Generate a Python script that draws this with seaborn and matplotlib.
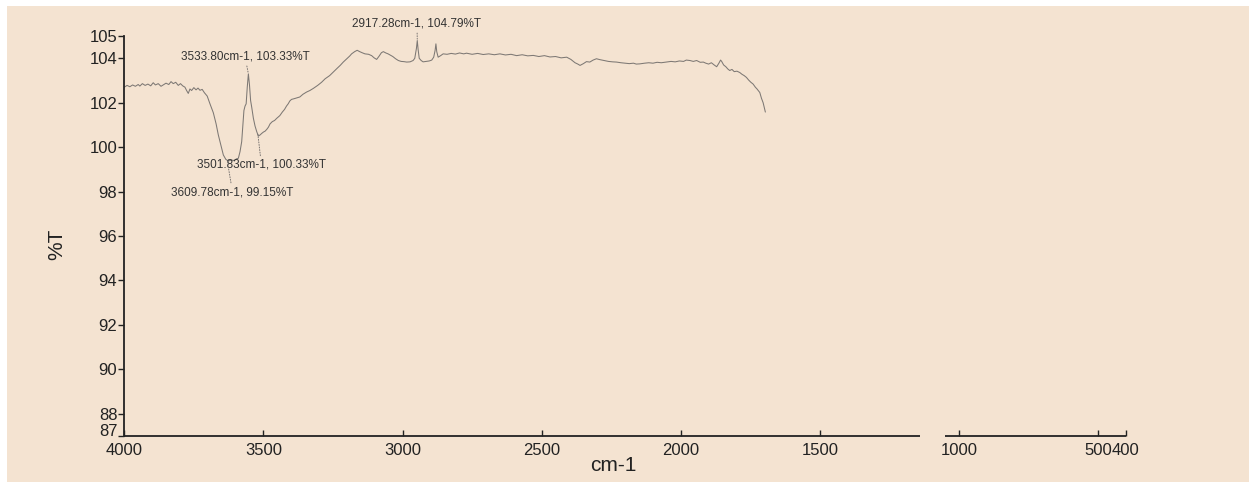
import numpy as np
import pandas as pd
import matplotlib.pyplot as plt
import seaborn as sns
from matplotlib.patches import Rectangle

sns.set_style("ticks")
plt.rcParams['font.family'] = ['Liberation Sans', 'DejaVu Sans']

BG = "#F4E3D1"
INK = "#222222"
TRACE = "#7d7874"

# --- spectrum (wavenumber cm-1, %T) ---
wavenumber = [
    4000, 3990, 3980, 3970, 3960, 3950, 3944, 3935, 3925, 3915, 3905, 3896, 3888, 3878, 3868, 3860,
    3850, 3840, 3832, 3824, 3815, 3806, 3798, 3790, 3782, 3776, 3770, 3764, 3758, 3750, 3742, 3735,
    3728, 3720, 3712, 3702, 3692, 3680, 3670, 3662, 3652, 3644, 3635, 3626, 3615, 3605, 3596, 3590,
    3584, 3578, 3574, 3570, 3566, 3562, 3558, 3554, 3550, 3546, 3542, 3536, 3530, 3524, 3518, 3512,
    3506, 3500, 3494, 3488, 3482, 3476, 3468, 3460, 3452, 3441, 3432, 3424, 3417, 3411, 3405, 3399,
    3390, 3380, 3369, 3358, 3345, 3333, 3320, 3305, 3291, 3278, 3262, 3249, 3235, 3224, 3213, 3200,
    3190, 3183, 3172, 3163, 3154, 3145, 3135, 3122, 3111, 3102, 3093, 3084, 3076, 3069, 3060, 3052,
    3045, 3035, 3025, 3015, 3005, 2995, 2985, 2973, 2962, 2956, 2950, 2947, 2944, 2940, 2933, 2926,
    2915, 2904, 2895, 2888, 2883, 2880, 2877, 2872, 2863, 2854, 2840, 2825, 2810, 2795, 2780, 2770,
    2750, 2730, 2710, 2690, 2670, 2650, 2630, 2610, 2590, 2570, 2550, 2530, 2510, 2490, 2470, 2450,
    2430, 2410, 2395, 2380, 2370, 2362, 2350, 2339, 2327, 2315, 2303, 2291, 2275, 2260, 2245, 2231,
    2215, 2200, 2185, 2170, 2160, 2147, 2130, 2115, 2100, 2085, 2070, 2051, 2035, 2020, 2005, 1990,
    1980, 1967, 1955, 1943, 1930, 1919, 1910, 1900, 1890, 1880, 1871, 1863, 1857, 1853, 1846, 1838,
    1831, 1824, 1816, 1808, 1798, 1788, 1780, 1772, 1764, 1756, 1748, 1740, 1732, 1726, 1720, 1716,
    1710, 1704, 1700, 1696,
]
transmittance = [
    102.70, 102.78, 102.72, 102.80, 102.74, 102.82, 102.75, 102.86, 102.78, 102.84, 102.76, 102.90, 102.80, 102.86, 102.74, 102.80,
    102.88, 102.82, 102.95, 102.86, 102.92, 102.78, 102.86, 102.76, 102.70, 102.55, 102.42, 102.62, 102.55, 102.68, 102.58, 102.66,
    102.56, 102.60, 102.45, 102.30, 101.95, 101.55, 101.05, 100.55, 100.05, 99.65, 99.45, 99.38, 99.42, 99.40, 99.48, 99.50,
    99.80, 100.25, 100.95, 101.65, 101.85, 101.95, 102.70, 103.30, 102.80, 102.10, 101.80, 101.30, 100.95, 100.70, 100.50, 100.55,
    100.62, 100.68, 100.72, 100.80, 100.90, 101.05, 101.15, 101.20, 101.30, 101.42, 101.58, 101.70, 101.85, 101.95, 102.08, 102.15,
    102.18, 102.22, 102.26, 102.38, 102.48, 102.55, 102.65, 102.78, 102.92, 103.08, 103.22, 103.38, 103.55, 103.68, 103.83, 103.98,
    104.10, 104.20, 104.30, 104.36, 104.30, 104.25, 104.20, 104.18, 104.12, 104.02, 103.95, 104.10, 104.25, 104.30, 104.24, 104.20,
    104.15, 104.08, 103.98, 103.90, 103.86, 103.85, 103.83, 103.84, 103.90, 104.00, 104.45, 104.80, 104.40, 104.00, 103.90, 103.84,
    103.86, 103.88, 103.92, 104.05, 104.35, 104.65, 104.30, 104.05, 104.12, 104.20, 104.18, 104.22, 104.19, 104.24, 104.20, 104.23,
    104.18, 104.22, 104.17, 104.20, 104.16, 104.20, 104.15, 104.18, 104.12, 104.16, 104.11, 104.13, 104.08, 104.12, 104.06, 104.08,
    104.02, 104.05, 103.95, 103.80, 103.74, 103.68, 103.76, 103.85, 103.83, 103.92, 103.98, 103.94, 103.90, 103.86, 103.84, 103.83,
    103.80, 103.78, 103.76, 103.78, 103.74, 103.75, 103.78, 103.80, 103.78, 103.82, 103.80, 103.83, 103.86, 103.84, 103.88, 103.86,
    103.92, 103.90, 103.86, 103.90, 103.82, 103.83, 103.78, 103.74, 103.80, 103.70, 103.62, 103.78, 103.92, 103.86, 103.70, 103.62,
    103.52, 103.45, 103.50, 103.40, 103.42, 103.36, 103.28, 103.22, 103.14, 103.02, 102.92, 102.84, 102.70, 102.62, 102.52, 102.46,
    102.20, 102.00, 101.80, 101.58,
]

# peak labels printed by the instrument
peak_labels = ["3533.80cm-1, 103.33%T", "3501.83cm-1, 100.33%T",
               "3609.78cm-1, 99.15%T", "2917.28cm-1, 104.79%T"]

x_ticks = [4000, 3500, 3000, 2500, 2000, 1500, 1000, 500, 400]
y_ticks = [87, 88, 90, 92, 94, 96, 98, 100, 102, 104, 105]

df = pd.DataFrame({"cm-1": wavenumber, "%T": transmittance})

fig = plt.figure(figsize=(12.49, 4.83), dpi=100, facecolor="white")
fig.patches.append(Rectangle((7 / 1249, 1 / 483), 1, 476 / 483, transform=fig.transFigure,
                             facecolor=BG, edgecolor="none", zorder=-10))
ax = fig.add_axes([0.0995, 0.0973, 0.802, 0.828])
ax.set_facecolor(BG)

sns.lineplot(data=df, x="cm-1", y="%T", sort=False, color=TRACE, linewidth=0.75, ax=ax)

ax.set_xlim(4000, 400)
ax.set_ylim(87, 105)
ax.set_xticks(x_ticks)
ax.set_yticks(y_ticks)
ax.tick_params(axis="x", direction="in", length=4, width=1, colors=INK, labelsize=12, pad=5)
ax.tick_params(axis="y", direction="out", length=4, width=1, colors=INK, labelsize=12, pad=1)
for lbl in ax.get_yticklabels():
    if lbl.get_text() == "87":
        lbl.set_va("baseline")

for side in ["top", "right", "bottom"]:
    ax.spines[side].set_visible(False)
ax.spines["left"].set_color(INK)
ax.spines["left"].set_linewidth(1.3)

# broken x axis line, as on the printout
ax.hlines([87, 87], [4000, 1050], [1140, 400], color=INK, linewidth=1.3, clip_on=False)

ax.set_xlabel("cm-1", fontsize=15, color=INK)
ax.set_ylabel("%T", fontsize=15, color=INK)
ax.xaxis.set_label_coords(0.488, -0.05)
ax.yaxis.set_label_coords(-0.058, 0.48)

leader = dict(arrowstyle="-", color="#7a7572", linewidth=0.7, linestyle=":", shrinkA=0, shrinkB=1)
ann_kw = dict(fontsize=8.5, color="#333333", ha="center", va="center")
ax.annotate(peak_labels[0], xy=(3554, 103.3), xytext=(3566, 104.07), arrowprops=leader, **ann_kw)
ax.annotate(peak_labels[1], xy=(3521, 100.7), xytext=(3507, 99.2), arrowprops=leader, **ann_kw)
ax.annotate(peak_labels[2], xy=(3630, 99.4), xytext=(3611, 97.98), arrowprops=leader, **ann_kw)
ax.annotate(peak_labels[3], xy=(2947, 104.8), xytext=(2948, 105.55), arrowprops=leader,
            annotation_clip=False, **ann_kw)

fig.savefig("out.png", dpi=100, facecolor="white")
